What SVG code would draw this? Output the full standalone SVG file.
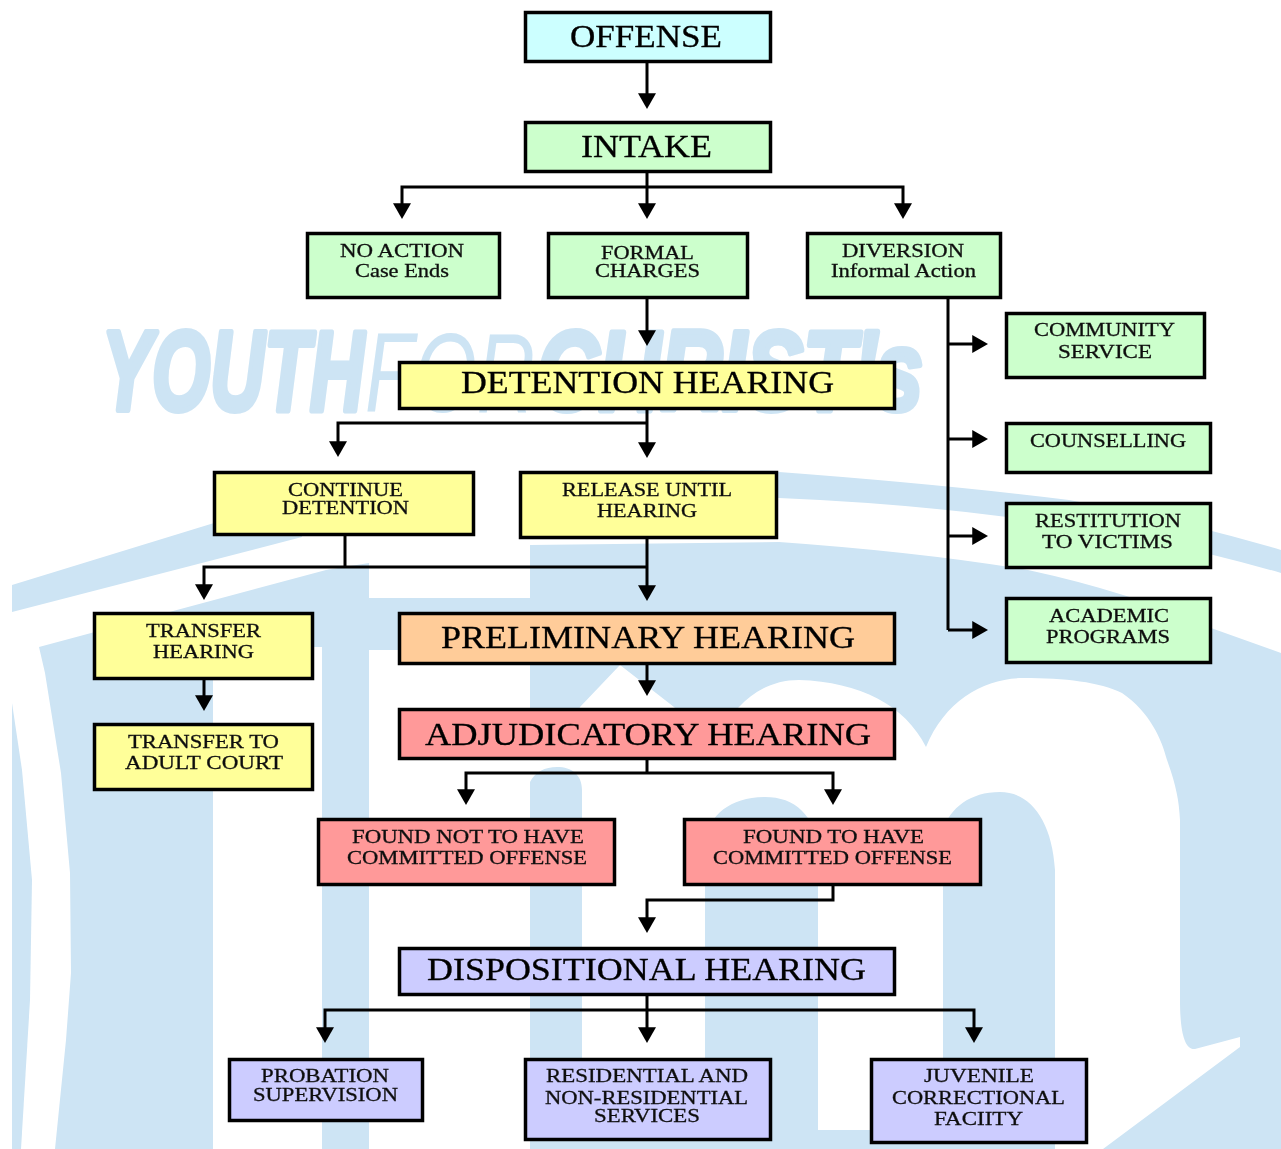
<svg xmlns="http://www.w3.org/2000/svg" width="1281" height="1149" viewBox="0 0 1281 1149">
<style>
.bg{fill:#cde4f4}
.wh{fill:#fff}
.wm{font-family:"Liberation Sans",Arial,sans-serif;font-style:italic;font-size:114px;fill:#cde4f4}
.hv{font-weight:700;stroke:#cde4f4;stroke-width:6;stroke-linejoin:round}
.lt{font-weight:400}
.n rect{stroke:#000;stroke-width:3.5}
.n text{font-family:"Liberation Serif","Times New Roman",serif;fill:#000;filter:url(#soft)}
.big text{font-size:31px;stroke:#000;stroke-width:.3}
.sm text{font-size:18.5px;stroke:#111;stroke-width:.3;fill:#111}
.cy{fill:#ccffff}.gr{fill:#ccffcc}.ye{fill:#ffff99}.or{fill:#ffcc99}.re{fill:#ff9999}.pu{fill:#ccccff}
#connectors path{fill:none;stroke:#000;stroke-width:3;marker-end:url(#ah)}
#connectors path.p{marker-end:none}
</style>
<defs>
<filter id="soft" x="-5%" y="-20%" width="110%" height="140%"><feGaussianBlur stdDeviation="0.55"/></filter>
<marker id="ah" markerUnits="userSpaceOnUse" markerWidth="18" markerHeight="18" refX="6" refY="8" viewBox="0 0 16 16" orient="auto"><path d="M0 0L14 8L0 16z" fill="#000"/></marker>
</defs>
<rect width="1281" height="1149" fill="#fff"/>
<g id="background">
<path class="bg" d="M12 585L214 523L300 510L302 537L12 612z"/>
<path class="bg" d="M700 470L779 472Q940 484 1069 500Q1180 520 1281 550V573Q1150 535 1007 517Q900 503 779 498L700 490z"/>
<path class="bg" d="M39 647L326 570L369 563V598H530V545L779 542Q920 552 1028 570Q1130 592 1211 628L1281 653V1149H530V650H369V1149H322V647H213V1149H55L66 1040L71 973L70 873L61 773L45 673z"/>
<path class="bg" d="M12 703L22 770L32 880L30 1000L21 1149H12z"/>
<path class="wh" d="M582 1130V790C582 775 572 767 557 767C545 767 535 772 530 782V760H560L580 707L620 665L674 707L706 740L739 707C755 690 775 680 799 680C860 682 905 705 926 747C945 700 985 678 1023 678C1065 678 1100 682 1122 693C1150 712 1162 740 1167 760C1176 785 1179 800 1180 820V1000C1180 1030 1184 1050 1195 1049L1240 1037V1047L1103 1149H1055V870C1052 820 1030 792 1000 792C970 792 950 808 943 830V1130H818V850C815 815 795 797 765 797C730 797 710 815 705 840V1135z"/>
<text class="wm hv" x="102" y="410" textLength="262" lengthAdjust="spacingAndGlyphs">YOUTH</text>
<text class="wm lt" x="365" y="412" textLength="170" lengthAdjust="spacingAndGlyphs">FOR</text>
<text class="wm hv" x="537" y="410" textLength="386" lengthAdjust="spacingAndGlyphs">CHRIST's</text>
</g>
<g id="connectors">
<path d="M647 62V100"/>
<path d="M647 172V210"/>
<path d="M647 187H402V210"/>
<path d="M647 187H903V210"/>
<path d="M647 298V337"/>
<path d="M647 410V449"/>
<path d="M647 423H338V448"/>
<path class="p" d="M345 536V567"/>
<path d="M647 567H204V591"/>
<path d="M647 539V592"/>
<path d="M204 680V702"/>
<path d="M647 665V687"/>
<path class="p" d="M647 760V773"/>
<path d="M647 773H466V796"/>
<path d="M647 773H833V796"/>
<path d="M833 886V900H647V924"/>
<path d="M647 996V1034"/>
<path d="M647 1010H325V1034"/>
<path d="M647 1010H974V1034"/>
<path class="p" d="M948 298V630"/>
<path d="M948 344H979"/>
<path d="M948 439H979"/>
<path d="M948 536H979"/>
<path d="M948 630H979"/>
</g>
<g id="offense" class="n big"><rect class="cy" x="525.500" y="12.500" width="245" height="49"/><text x="570" y="47" textLength="152" lengthAdjust="spacingAndGlyphs">OFFENSE</text></g>
<g id="intake" class="n big"><rect class="gr" x="525.500" y="122.500" width="245" height="49"/><text x="581" y="157" textLength="131" lengthAdjust="spacingAndGlyphs">INTAKE</text></g>
<g id="no-action" class="n sm"><rect class="gr" x="307.500" y="233.500" width="192" height="64"/><text x="340" y="257" textLength="124" lengthAdjust="spacingAndGlyphs">NO ACTION</text><text x="355" y="277" textLength="94" lengthAdjust="spacingAndGlyphs">Case Ends</text></g>
<g id="formal-charges" class="n sm"><rect class="gr" x="548.500" y="233.500" width="199" height="64"/><text x="601" y="259" textLength="93" lengthAdjust="spacingAndGlyphs">FORMAL</text><text x="595" y="277" textLength="105" lengthAdjust="spacingAndGlyphs">CHARGES</text></g>
<g id="diversion" class="n sm"><rect class="gr" x="807.500" y="233.500" width="193" height="64"/><text x="842" y="257" textLength="122" lengthAdjust="spacingAndGlyphs">DIVERSION</text><text x="831" y="277" textLength="145" lengthAdjust="spacingAndGlyphs">Informal Action</text></g>
<g id="community-service" class="n sm"><rect class="gr" x="1006.500" y="313.500" width="198" height="64"/><text x="1034" y="336" textLength="141" lengthAdjust="spacingAndGlyphs">COMMUNITY</text><text x="1058" y="358" textLength="94" lengthAdjust="spacingAndGlyphs">SERVICE</text></g>
<g id="counselling" class="n sm"><rect class="gr" x="1006.500" y="423.500" width="204" height="49"/><text x="1030" y="447" textLength="156" lengthAdjust="spacingAndGlyphs">COUNSELLING</text></g>
<g id="restitution" class="n sm"><rect class="gr" x="1006.500" y="503.500" width="204" height="64"/><text x="1035" y="527" textLength="146" lengthAdjust="spacingAndGlyphs">RESTITUTION</text><text x="1042" y="548" textLength="131" lengthAdjust="spacingAndGlyphs">TO VICTIMS</text></g>
<g id="academic" class="n sm"><rect class="gr" x="1006.500" y="598.500" width="204" height="64"/><text x="1049" y="622" textLength="120" lengthAdjust="spacingAndGlyphs">ACADEMIC</text><text x="1046" y="643" textLength="124" lengthAdjust="spacingAndGlyphs">PROGRAMS</text></g>
<g id="detention-hearing" class="n big"><rect class="ye" x="399.500" y="362.500" width="495" height="46"/><text x="461" y="393" textLength="373" lengthAdjust="spacingAndGlyphs">DETENTION HEARING</text></g>
<g id="continue-detention" class="n sm"><rect class="ye" x="214.500" y="472.500" width="259" height="62"/><text x="288" y="496" textLength="115" lengthAdjust="spacingAndGlyphs">CONTINUE</text><text x="282" y="514" textLength="127" lengthAdjust="spacingAndGlyphs">DETENTION</text></g>
<g id="release" class="n sm"><rect class="ye" x="520.500" y="472.500" width="256" height="65"/><text x="562" y="496" textLength="170" lengthAdjust="spacingAndGlyphs">RELEASE UNTIL</text><text x="597" y="517" textLength="100" lengthAdjust="spacingAndGlyphs">HEARING</text></g>
<g id="transfer-hearing" class="n sm"><rect class="ye" x="94.500" y="613.500" width="218" height="65"/><text x="146" y="637" textLength="115" lengthAdjust="spacingAndGlyphs">TRANSFER</text><text x="153" y="658" textLength="101" lengthAdjust="spacingAndGlyphs">HEARING</text></g>
<g id="transfer-adult" class="n sm"><rect class="ye" x="94.500" y="724.500" width="218" height="65"/><text x="128" y="748" textLength="151" lengthAdjust="spacingAndGlyphs">TRANSFER TO</text><text x="125" y="769" textLength="158" lengthAdjust="spacingAndGlyphs">ADULT COURT</text></g>
<g id="preliminary" class="n big"><rect class="or" x="399.500" y="613.500" width="495" height="50"/><text x="441" y="648" textLength="414" lengthAdjust="spacingAndGlyphs">PRELIMINARY HEARING</text></g>
<g id="adjudicatory" class="n big"><rect class="re" x="399.500" y="709.500" width="495" height="49"/><text x="425" y="745" textLength="446" lengthAdjust="spacingAndGlyphs">ADJUDICATORY HEARING</text></g>
<g id="found-not" class="n sm"><rect class="re" x="318.500" y="819.500" width="296" height="65"/><text x="352" y="843" textLength="232" lengthAdjust="spacingAndGlyphs">FOUND NOT TO HAVE</text><text x="347" y="864" textLength="240" lengthAdjust="spacingAndGlyphs">COMMITTED OFFENSE</text></g>
<g id="found" class="n sm"><rect class="re" x="684.500" y="819.500" width="296" height="65"/><text x="743" y="843" textLength="181" lengthAdjust="spacingAndGlyphs">FOUND TO HAVE</text><text x="713" y="864" textLength="239" lengthAdjust="spacingAndGlyphs">COMMITTED OFFENSE</text></g>
<g id="dispositional" class="n big"><rect class="pu" x="399.500" y="948.500" width="495" height="46"/><text x="427" y="980" textLength="439" lengthAdjust="spacingAndGlyphs">DISPOSITIONAL HEARING</text></g>
<g id="probation" class="n sm"><rect class="pu" x="229.500" y="1059.500" width="193" height="61"/><text x="261" y="1082" textLength="128" lengthAdjust="spacingAndGlyphs">PROBATION</text><text x="253" y="1101" textLength="145" lengthAdjust="spacingAndGlyphs">SUPERVISION</text></g>
<g id="residential" class="n sm"><rect class="pu" x="525.500" y="1059.500" width="245" height="80"/><text x="546" y="1082" textLength="202" lengthAdjust="spacingAndGlyphs">RESIDENTIAL AND</text><text x="545" y="1104" textLength="203" lengthAdjust="spacingAndGlyphs">NON-RESIDENTIAL</text><text x="594" y="1122" textLength="106" lengthAdjust="spacingAndGlyphs">SERVICES</text></g>
<g id="juvenile" class="n sm"><rect class="pu" x="871.500" y="1059.500" width="215" height="83"/><text x="924" y="1082" textLength="110" lengthAdjust="spacingAndGlyphs">JUVENILE</text><text x="892" y="1104" textLength="173" lengthAdjust="spacingAndGlyphs">CORRECTIONAL</text><text x="934" y="1125" textLength="89" lengthAdjust="spacingAndGlyphs">FACIITY</text></g>
</svg>
